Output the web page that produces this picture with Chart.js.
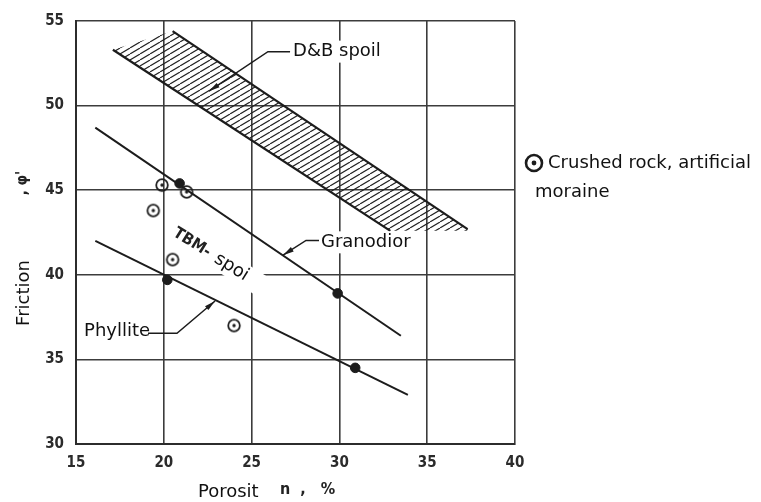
<!DOCTYPE html>
<html>
<head>
<meta charset="utf-8">
<script src="https://cdn.jsdelivr.net/npm/chart.js@4.4.0/dist/chart.umd.min.js"></script>
<style>
  html, body { margin: 0; padding: 0; background: #fff; }
  #wrap { width: 761px; height: 502px; }
</style>
</head>
<body>
<div id="wrap"><canvas id="grafico"></canvas></div>
<script>
// Ticks
const xTicks = [15, 20, 25, 30, 35, 40];
const yTicks = [30, 35, 40, 45, 50, 55];

// Granodior (line + measured points)
const granodiorX = [16.1, 33.5];
const granodiorY = [48.7, 36.4];
const granodiorPtsX = [20.9, 29.9];
const granodiorPtsY = [45.4, 38.9];

// Phyllite (line + measured points)
const phylliteX = [16.1, 33.9];
const phylliteY = [42.0, 32.9];
const phyllitePtsX = [20.2, 30.9];
const phyllitePtsY = [39.7, 34.5];

// Crushed rock, artificial moraine
const crushedX = [19.9, 21.3, 19.4, 20.5, 24.0];
const crushedY = [45.3, 44.9, 43.8, 40.9, 37.0];

// D&B spoil band edges
const dbUpperX = [20.5, 37.3];
const dbUpperY = [54.4, 42.7];
const dbLowerX = [17.1, 32.9];
const dbLowerY = [53.3, 42.6];

const FONT_TEXT = "'DejaVu Sans', Verdana, sans-serif";
const FONT_SCAN = "'DejaVu Sans Condensed', 'DejaVu Sans', sans-serif";
const INK = '#1c1c1c';

const pts = (xs, ys) => xs.map((x, i) => ({ x: x, y: ys[i] }));

// Band polygon built from the two edges
const bandPts = [
    ...pts(dbLowerX, dbLowerY),
    { x: dbUpperX[1], y: dbLowerY[1] },
    ...pts(dbUpperX, dbUpperY).reverse()
];

// Labels and leader lines (data units)
const etiquetas = [
    { texto: 'D&B spoil', x: 27.36, y: 53.19 },
    { texto: 'Granodior', x: 28.95, y: 41.92 },
    { texto: 'Phyllite', x: 15.46, y: 36.66 }
];
const guias = [
    [[27.19, 53.19], [25.93, 53.19], [22.57, 50.85]],
    [[28.84, 42.03], [28.10, 42.03], [26.79, 41.16]],
    [[19.10, 36.54], [20.75, 36.54], [22.92, 38.45]]
];

// 🔹 Circle with a dot in the middle
function crearMarcador(r, grosor, rDot) {
    const s = Math.ceil(r * 2 + grosor * 2 + 2);
    const c = document.createElement('canvas');
    c.width = s; c.height = s;
    const ctx = c.getContext('2d');
    ctx.strokeStyle = INK;
    ctx.lineWidth = grosor;
    ctx.beginPath(); ctx.arc(s / 2, s / 2, r, 0, Math.PI * 2); ctx.stroke();
    ctx.fillStyle = INK;
    ctx.beginPath(); ctx.arc(s / 2, s / 2, rDot, 0, Math.PI * 2); ctx.fill();
    return c;
}

// 🔹 Diagonal hatching pattern
function crearRayado() {
    const w = 10, h = 6;
    const c = document.createElement('canvas');
    c.width = w; c.height = h;
    const ctx = c.getContext('2d');
    ctx.strokeStyle = '#222';
    ctx.lineWidth = 1.15;
    for (const dx of [-w, 0, w]) {
        ctx.beginPath(); ctx.moveTo(dx, h); ctx.lineTo(dx + w, 0); ctx.stroke();
    }
    return ctx.createPattern(c, 'repeat');
}

function flecha(ctx, x1, y1, x2, y2) {
    const a = Math.atan2(y2 - y1, x2 - x1);
    const len = 11, half = 2.6;
    ctx.beginPath();
    ctx.moveTo(x2, y2);
    ctx.lineTo(x2 - len * Math.cos(a) + half * Math.sin(a), y2 - len * Math.sin(a) - half * Math.cos(a));
    ctx.lineTo(x2 - len * Math.cos(a) - half * Math.sin(a), y2 - len * Math.sin(a) + half * Math.cos(a));
    ctx.closePath();
    ctx.fill();
}

function textoConFondo(ctx, texto, x, y) {
    const w = ctx.measureText(texto).width;
    ctx.fillStyle = '#fff';
    ctx.fillRect(x - 2, y - 11, w + 4, 22);
    ctx.fillStyle = '#111';
    ctx.fillText(texto, x, y);
}

const anotaciones = {
    id: 'anotaciones',
    afterDatasetsDraw(chart) {
        const ctx = chart.ctx;
        const sx = chart.scales.x, sy = chart.scales.y;
        const area = chart.chartArea;
        const px = v => sx.getPixelForValue(v);
        const py = v => sy.getPixelForValue(v);
        ctx.save();

        // labels
        ctx.font = '18px ' + FONT_TEXT;
        ctx.textBaseline = 'middle';
        ctx.textAlign = 'left';
        etiquetas.forEach(e => textoConFondo(ctx, e.texto, px(e.x), py(e.y)));

        // leaders
        ctx.strokeStyle = INK;
        ctx.fillStyle = INK;
        ctx.lineWidth = 1.5;
        guias.forEach(g => {
            ctx.beginPath();
            g.forEach((p, i) => i === 0 ? ctx.moveTo(px(p[0]), py(p[1])) : ctx.lineTo(px(p[0]), py(p[1])));
            ctx.stroke();
            const a = g[g.length - 2], b = g[g.length - 1];
            flecha(ctx, px(a[0]), py(a[1]), px(b[0]), py(b[1]));
        });

        // TBM- spoi
        const ang = 32 * Math.PI / 180;
        ctx.save();
        ctx.translate(px(21.6), py(41.9));
        ctx.rotate(ang);
        ctx.font = 'bold 16px ' + FONT_SCAN;
        ctx.textAlign = 'center';
        ctx.fillStyle = '#222';
        ctx.fillText('TBM-', 0, 0);
        ctx.restore();

        ctx.save();
        ctx.translate(px(23.85), py(40.45));
        ctx.rotate(ang);
        ctx.font = '18px ' + FONT_TEXT;
        ctx.textAlign = 'left';
        const ws = ctx.measureText('spoi').width;
        ctx.fillStyle = '#fff';
        ctx.fillRect(-ws / 2 - 2, -11, ws + 30, 22);
        ctx.fillStyle = '#111';
        ctx.fillText('spoi', -ws / 2, 0);
        ctx.restore();

        // axis titles
        ctx.fillStyle = '#111';
        ctx.font = '18px ' + FONT_TEXT;
        ctx.textAlign = 'left';
        ctx.fillText('Porosit', 198, 492);
        ctx.font = 'bold 16px ' + FONT_SCAN;
        ctx.fillStyle = '#222';
        ctx.fillText('n  ,   %', 280, 490);

        ctx.save();
        ctx.translate(24, 293);
        ctx.rotate(-Math.PI / 2);
        ctx.textAlign = 'center';
        ctx.font = '18px ' + FONT_TEXT;
        ctx.fillStyle = '#111';
        ctx.fillText('Friction', 0, 0);
        ctx.restore();

        ctx.save();
        ctx.translate(23, 183);
        ctx.rotate(-Math.PI / 2);
        ctx.textAlign = 'center';
        ctx.font = 'bold 15px ' + FONT_SCAN;
        ctx.fillStyle = '#222';
        ctx.fillText(", \u03C6'", 0, 0);
        ctx.restore();

        // legend
        const lx = area.right + 19, ly = 163;
        const m = crearMarcador(8, 2.6, 2.4);
        ctx.drawImage(m, lx - m.width / 2, ly - m.height / 2);
        ctx.fillStyle = '#111';
        ctx.font = '18px ' + FONT_TEXT;
        ctx.textAlign = 'left';
        ctx.fillText('Crushed rock, artificial', area.right + 33, ly);
        ctx.fillText('moraine', area.right + 20, ly + 29);

        ctx.restore();
    }
};

let chartInstance = null;

function dibujarGrafico() {
    const ctx = document.getElementById('grafico').getContext('2d');
    const marcador = crearMarcador(5.8, 1.8, 1.7);
    const escalaComun = {
        type: 'linear',
        grid: { color: '#3c3c3c', lineWidth: 1.6, drawTicks: false },
        border: { color: '#2c2c2c', width: 2 },
        ticks: {
            font: { family: FONT_SCAN, size: 15, weight: 'bold' },
            color: '#2b2b2b'
        }
    };

    chartInstance = new Chart(ctx, {
        type: 'scatter',
        data: {
            datasets: [
                {
                    label: 'Crushed rock, artificial moraine',
                    data: pts(crushedX, crushedY),
                    pointStyle: marcador,
                    pointRadius: 7
                },
                {
                    label: 'Granodior points',
                    data: pts(granodiorPtsX, granodiorPtsY),
                    pointRadius: 4.8,
                    backgroundColor: INK,
                    borderColor: INK
                },
                {
                    label: 'Phyllite points',
                    data: pts(phyllitePtsX, phyllitePtsY),
                    pointRadius: 4.8,
                    backgroundColor: INK,
                    borderColor: INK
                },
                {
                    type: 'line',
                    label: 'Granodior',
                    data: pts(granodiorX, granodiorY),
                    borderColor: INK,
                    borderWidth: 2,
                    pointRadius: 0,
                    fill: false
                },
                {
                    type: 'line',
                    label: 'Phyllite',
                    data: pts(phylliteX, phylliteY),
                    borderColor: INK,
                    borderWidth: 2,
                    pointRadius: 0,
                    fill: false
                },
                {
                    type: 'line',
                    label: 'D&B upper',
                    data: pts(dbUpperX, dbUpperY),
                    borderColor: INK,
                    borderWidth: 2.2,
                    pointRadius: 0,
                    fill: false
                },
                {
                    type: 'line',
                    label: 'D&B lower',
                    data: pts(dbLowerX, dbLowerY),
                    borderColor: INK,
                    borderWidth: 2.2,
                    pointRadius: 0,
                    fill: false
                },
                {
                    type: 'line',
                    label: 'D&B spoil',
                    data: bandPts,
                    borderWidth: 0,
                    borderColor: 'rgba(0,0,0,0)',
                    backgroundColor: crearRayado(),
                    pointRadius: 0,
                    fill: 'shape'
                }
            ]
        },
        options: {
            responsive: false,
            animation: false,
            layout: { padding: { left: 0, top: 16, right: 246, bottom: 0 } },
            plugins: { legend: { display: false }, tooltip: { enabled: false } },
            scales: {
                x: {
                    ...escalaComun,
                    min: 15, max: 40,
                    afterBuildTicks: s => { s.ticks = xTicks.map(v => ({ value: v })); },
                    afterFit: s => { s.height = 58; },
                    ticks: { ...escalaComun.ticks, padding: 10 }
                },
                y: {
                    ...escalaComun,
                    min: 30, max: 55,
                    afterBuildTicks: s => { s.ticks = yTicks.map(v => ({ value: v })); },
                    afterFit: s => { s.width = 76; },
                    ticks: { ...escalaComun.ticks, padding: 12 }
                }
            }
        },
        plugins: [anotaciones]
    });
}

const canvas = document.getElementById('grafico');
canvas.width = 761;
canvas.height = 502;
dibujarGrafico();
</script>
</body>
</html>
